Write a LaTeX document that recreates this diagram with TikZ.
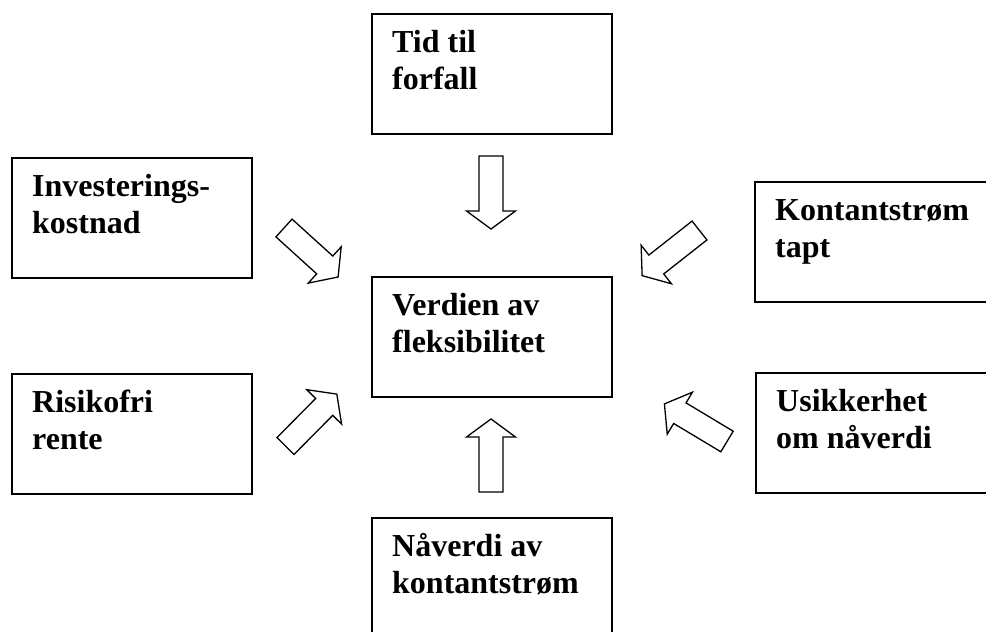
\documentclass[tikz,border=0pt]{standalone}
\usepackage{fontspec}
\setmainfont{Liberation Serif}
\begin{document}
\begin{tikzpicture}[x=1pt,y=-1pt,
  box/.style={draw, line width=1.6pt, minimum width=240pt, minimum height=120pt, inner sep=0pt, anchor=north west},
  lbl/.style={anchor=north west, inner sep=0pt, align=left, font=\fontsize{32}{37.5}\selectfont\bfseries},
  barrow/.style={draw, line width=1.3pt, line join=miter, fill=white},
  pics/blockarrow/.style={code={\path[barrow] (0,12) -- (55,12) -- (55,24.5) -- (73,0) -- (55,-24.5) -- (55,-12) -- (0,-12) -- cycle;}}
]
\useasboundingbox (0,0) rectangle (986,632);
\clip (0,0) rectangle (986,632);

% boxes
\node[box] (tid) at (371,13) {};
\node[box] (ik)  at (11,157) {};
\node[box] (kt)  at (754,181) {};
\node[box] (v)   at (371,276) {};
\node[box] (rr)  at (11,373) {};
\node[box] (un)  at (755,372) {};
\node[box] (nk)  at (371,517) {};

% labels
\node[lbl] (tidl) at ([xshift=21pt,yshift=-12.75pt]tid.north west) {\strut Tid til\\forfall};
\node[lbl] (ikl)  at ([xshift=21pt,yshift=-12.75pt]ik.north west)  {\strut Investerings-\\kostnad};
\node[lbl] (ktl)  at ([xshift=21pt,yshift=-12.75pt]kt.north west)  {\strut Kontantstrøm\\tapt};
\node[lbl] (vl)   at ([xshift=21pt,yshift=-12.75pt]v.north west)   {\strut Verdien av\\fleksibilitet};
\node[lbl] (rrl)  at ([xshift=21pt,yshift=-12.75pt]rr.north west)  {\strut Risikofri\\rente};
\node[lbl] (unl)  at ([xshift=21pt,yshift=-12.75pt]un.north west)  {\strut Usikkerhet\\om nåverdi};
\node[lbl] (nkl)  at ([xshift=21pt,yshift=-12.75pt]nk.north west)  {\strut Nåverdi av\\kontantstrøm};

% block arrows (tail points)
\coordinate (a1) at (491,156);
\coordinate (a2) at (284,228);
\coordinate (a3) at (699.5,230.5);
\coordinate (a4) at (285.5,446);
\coordinate (a5) at (491,492);
\coordinate (a6) at (727,441.5);
\pic[rotate=-90]    at (a1) {blockarrow};
\pic[rotate=-42.2]  at (a2) {blockarrow};
\pic[rotate=-141.8] at (a3) {blockarrow};
\pic[rotate=45.3]   at (a4) {blockarrow};
\pic[rotate=90]     at (a5) {blockarrow};
\pic[rotate=149]    at (a6) {blockarrow};
\end{tikzpicture}
\end{document}
